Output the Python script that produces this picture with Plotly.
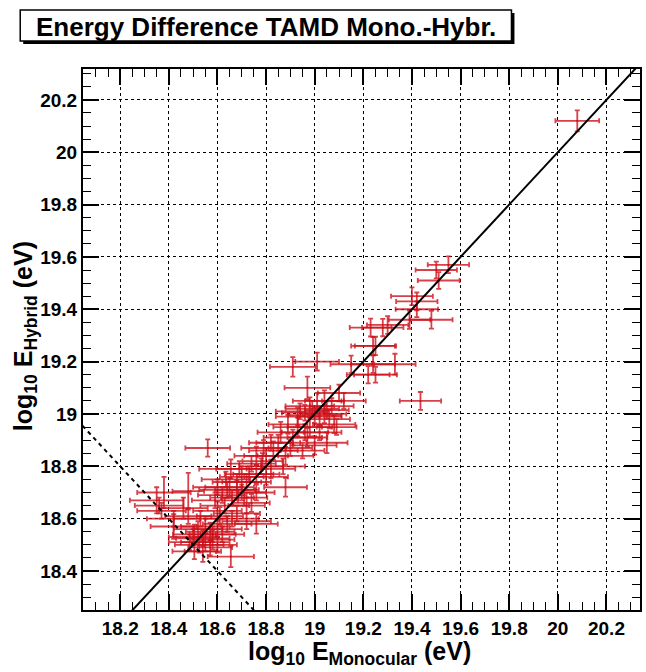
import plotly.graph_objects as go

# ---- data ----
e_mono = [20.08, 19.55, 19.50, 19.51, 19.40, 19.42, 19.42, 19.39, 19.48, 19.23,
          19.28, 19.30, 19.24, 19.25, 18.91, 19.01, 19.15, 19.24, 19.33, 19.22,
          19.25, 19.435, 18.97, 19.10, 19.01, 19.04, 18.98, 18.99, 19.05, 18.96,
          19.00, 19.02, 19.08, 18.93, 18.89, 18.98, 18.96, 18.91, 18.82, 19.05,
          18.85, 18.56, 19.09, 18.97, 18.79, 18.88, 18.785, 18.69, 18.655, 18.76,
          18.88, 18.635, 18.72, 18.60, 18.64, 18.68, 18.76, 18.62, 18.71, 18.59,
          18.74, 18.72, 18.68, 18.61, 18.66, 18.72, 18.76, 18.53, 18.55, 18.58,
          18.505, 18.54, 18.58, 18.485, 18.525, 18.505, 18.655, 18.54, 18.42, 18.42,
          18.38, 18.35, 18.48, 18.46, 18.36, 18.37, 18.48, 18.80, 18.83, 18.90,
          18.86, 18.93, 18.87, 18.82, 18.78, 18.73, 18.70, 18.80, 18.68, 18.65,
          18.70, 18.66, 18.63, 18.60, 18.64, 18.60, 18.57, 18.52, 18.62, 18.55,
          18.50, 18.60, 18.57, 18.95, 19.00, 19.02, 19.06, 19.07, 19.04, 18.94,
          19.12, 18.76, 18.74]
e_hyb = [20.12, 19.57, 19.55, 19.51, 19.45, 19.43, 19.40, 19.36, 19.36, 19.33,
         19.33, 19.34, 19.26, 19.26, 19.18, 19.20, 19.19, 19.19, 19.19, 19.15,
         19.15, 19.05, 19.10, 19.08, 19.05, 19.05, 19.03, 19.02, 19.015, 19.005,
         18.995, 18.99, 18.96, 18.99, 18.96, 18.95, 18.93, 18.91, 18.89, 18.89,
         18.89, 18.87, 18.95, 18.91, 18.87, 18.84, 18.82, 18.79, 18.79, 18.77,
         18.72, 18.75, 18.74, 18.72, 18.71, 18.71, 18.70, 18.69, 18.68, 18.67,
         18.66, 18.65, 18.62, 18.61, 18.60, 18.59, 18.58, 18.60, 18.57, 18.54,
         18.54, 18.525, 18.52, 18.51, 18.50, 18.475, 18.455, 18.475, 18.57, 18.60,
         18.70, 18.67, 18.705, 18.64, 18.65, 18.63, 18.61, 18.84, 18.86, 18.87,
         18.93, 18.95, 18.80, 18.79, 18.80, 18.77, 18.76, 18.76, 18.74, 18.72,
         18.70, 18.68, 18.65, 18.63, 18.58, 18.56, 18.55, 18.56, 18.54, 18.51,
         18.53, 18.50, 18.49, 18.86, 18.88, 18.93, 18.98, 19.03, 19.00, 19.01,
         19.05, 18.84, 18.81]
err_mono = [0.09, 0.085, 0.085, 0.086, 0.086, 0.085, 0.087, 0.085, 0.087, 0.086,
            0.085, 0.085, 0.09, 0.085, 0.094, 0.09, 0.085, 0.09, 0.085, 0.088,
            0.088, 0.085, 0.094, 0.087, 0.10, 0.08, 0.10, 0.11, 0.09, 0.095,
            0.11, 0.09, 0.087, 0.09, 0.08, 0.092, 0.095, 0.12, 0.09, 0.085,
            0.09, 0.092, 0.082, 0.082, 0.092, 0.115, 0.082, 0.095, 0.13, 0.095,
            0.088, 0.10, 0.10, 0.10, 0.115, 0.09, 0.075, 0.10, 0.095, 0.095,
            0.075, 0.075, 0.095, 0.095, 0.11, 0.10, 0.088, 0.11, 0.10, 0.095,
            0.088, 0.11, 0.09, 0.085, 0.10, 0.09, 0.095, 0.075, 0.095, 0.11,
            0.11, 0.11, 0.065, 0.10, 0.10, 0.10, 0.095, 0.09, 0.10, 0.09,
            0.095, 0.10, 0.09, 0.10, 0.09, 0.10, 0.09, 0.09, 0.10, 0.10,
            0.10, 0.09, 0.10, 0.10, 0.10, 0.10, 0.10, 0.10, 0.09, 0.10,
            0.10, 0.08, 0.09, 0.09, 0.09, 0.09, 0.085, 0.09, 0.09, 0.10,
            0.09, 0.09, 0.10]
err_hyb = [0.04, 0.032, 0.032, 0.032, 0.034, 0.034, 0.03, 0.035, 0.034, 0.034,
           0.033, 0.034, 0.034, 0.035, 0.037, 0.034, 0.033, 0.033, 0.04, 0.033,
           0.03, 0.034, 0.043, 0.032, 0.03, 0.04, 0.033, 0.03, 0.033, 0.03,
           0.03, 0.035, 0.033, 0.034, 0.036, 0.036, 0.03, 0.03, 0.03, 0.04,
           0.03, 0.033, 0.03, 0.036, 0.03, 0.034, 0.03, 0.03, 0.036, 0.034,
           0.036, 0.03, 0.03, 0.03, 0.03, 0.036, 0.03, 0.03, 0.03, 0.03,
           0.034, 0.03, 0.03, 0.034, 0.03, 0.03, 0.037, 0.03, 0.03, 0.03,
           0.037, 0.03, 0.037, 0.03, 0.03, 0.03, 0.04, 0.04, 0.047, 0.03,
           0.06, 0.05, 0.07, 0.04, 0.03, 0.03, 0.03, 0.03, 0.035, 0.03,
           0.04, 0.035, 0.03, 0.035, 0.03, 0.03, 0.04, 0.03, 0.03, 0.035,
           0.03, 0.03, 0.03, 0.035, 0.03, 0.03, 0.035, 0.03, 0.03, 0.035,
           0.03, 0.03, 0.03, 0.03, 0.035, 0.03, 0.035, 0.03, 0.035, 0.03,
           0.03, 0.035, 0.03]

diag_x = [18.0, 20.4]                 # line E_hyb = E_mono
diag_y = diag_x
thresh_x = [18.0, 18.8]               # line E_mono + E_hyb = 37
thresh_sum = 37.0
thresh_y = [thresh_sum - v for v in thresh_x]

tick_vals = [18.2, 18.4, 18.6, 18.8, 19.0, 19.2, 19.4, 19.6, 19.8, 20.0, 20.2]
tick_text = ["18.2", "18.4", "18.6", "18.8", "19", "19.2", "19.4", "19.6", "19.8", "20", "20.2"]
x_range = [18.047, 20.338]
y_range = [18.251, 20.318]

title_text = "Energy Difference TAMD Mono.-Hybr."
x_title = "<b>log<sub>10</sub> E<sub>Monocular</sub> (eV)</b>"
y_title = "<b>log<sub>10</sub> E<sub>Hybrid</sub> (eV)</b>"

# ---- figure ----
W, H = 646, 672
ML, MR, MT, MB = 83, 4, 69, 62
FONT = "Liberation Sans, Arial, Helvetica, sans-serif"
RED = "rgba(205,18,28,0.8)"

fig = go.Figure()
fig.add_trace(go.Scatter(
    x=e_mono, y=e_hyb, mode="markers",
    marker=dict(size=2, color=RED),
    error_x=dict(type="data", array=err_mono, color=RED, thickness=1.8, width=2.5),
    error_y=dict(type="data", array=err_hyb, color=RED, thickness=1.8, width=2.5),
    showlegend=False, hoverinfo="skip"))
fig.add_trace(go.Scatter(x=diag_x, y=diag_y, mode="lines",
                         line=dict(color="black", width=2), showlegend=False))
fig.add_trace(go.Scatter(x=thresh_x, y=thresh_y, mode="lines",
                         line=dict(color="black", width=2, dash="4px,4px"), showlegend=False))

axis_common = dict(
    tickmode="array", tickvals=tick_vals, ticktext=tick_text,
    ticks="inside", ticklen=16, tickwidth=1.5, tickcolor="black",
    showline=True, linewidth=2, linecolor="black", mirror="ticks",
    showgrid=True, gridcolor="black", gridwidth=1, griddash="dot",
    zeroline=False,
    tickfont=dict(family=FONT, size=19, color="black", weight="bold"),
    minor=dict(tickmode="linear", tick0=18.0, dtick=0.05, ticks="inside",
               ticklen=8, tickwidth=1.2, tickcolor="black", showgrid=False),
)

fig.update_xaxes(range=x_range, **axis_common)
fig.update_yaxes(range=y_range, **axis_common)

pw, ph = W - ML - MR, H - MT - MB
def px(xp):
    return (xp - ML) / pw
def py(yp):
    return (H - MB - yp) / ph

# axis titles
fig.add_annotation(text=x_title, xref="paper", yref="paper",
                   x=px(360), y=py(653), xanchor="center", yanchor="middle",
                   showarrow=False, font=dict(family=FONT, size=25, color="black"))
fig.add_annotation(text=y_title, xref="paper", yref="paper",
                   x=px(25), y=py(336), xanchor="center", yanchor="middle",
                   textangle=-90, showarrow=False,
                   font=dict(family=FONT, size=25, color="black"))

# title box with shadow
box_l, box_t, box_r, box_b, sh = 20, 10, 513, 41, 3
fig.add_shape(type="rect", xref="paper", yref="paper",
              x0=px(box_l + sh), x1=px(box_r + sh), y0=py(box_b + sh), y1=py(box_t + sh),
              fillcolor="black", line=dict(width=0), layer="above")
fig.add_shape(type="rect", xref="paper", yref="paper",
              x0=px(box_l), x1=px(box_r), y0=py(box_b), y1=py(box_t),
              fillcolor="white", line=dict(color="black", width=1.5), layer="above")
fig.add_annotation(text="<b>" + title_text + "</b>", xref="paper", yref="paper",
                   x=px((box_l + box_r) / 2), y=py((box_t + box_b) / 2 + 1),
                   xanchor="center", yanchor="middle", showarrow=False,
                   font=dict(family=FONT, size=26, color="black"))

fig.update_layout(
    width=W, height=H,
    margin=dict(l=ML, r=MR, t=MT, b=MB, pad=0),
    paper_bgcolor="white", plot_bgcolor="white",
    font=dict(family=FONT, color="black"),
)

fig.write_html("out.html", config={"displayModeBar": False},
               post_script="document.body.style.margin='0';document.body.style.overflow='hidden';")
